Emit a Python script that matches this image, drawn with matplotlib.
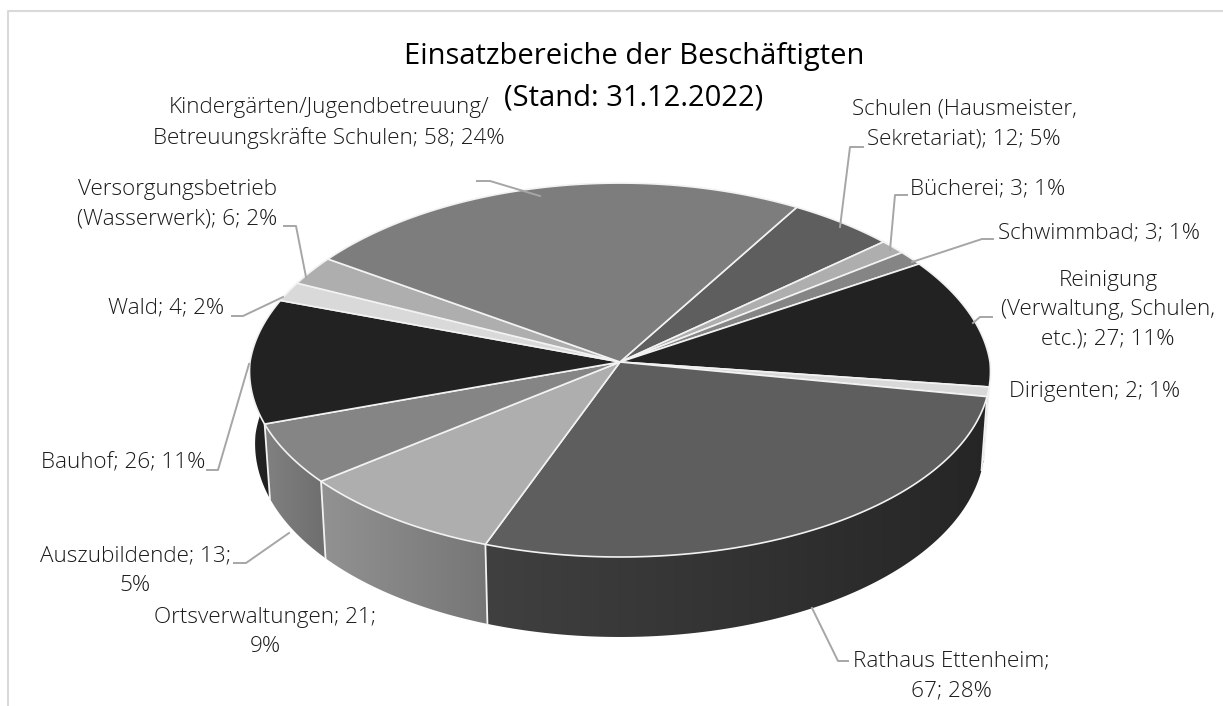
import numpy as np
import matplotlib
matplotlib.use('Agg')
import matplotlib.pyplot as plt
from matplotlib.patches import Polygon

plt.rcParams['font.family'] = ['Open Sans', 'DejaVu Sans']

values = [12, 3, 3, 27, 2, 67, 21, 13, 26, 4, 6, 58]
label_formats = [
    'Schulen (Hausmeister,\nSekretariat); {v}; {p}%',
    'Bücherei; {v}; {p}%',
    'Schwimmbad; {v}; {p}%',
    'Reinigung\n(Verwaltung, Schulen,\netc.); {v}; {p}%',
    'Dirigenten; {v}; {p}%',
    'Rathaus Ettenheim;\n{v}; {p}%',
    'Ortsverwaltungen; {v};\n{p}%',
    'Auszubildende; {v};\n{p}%',
    'Bauhof; {v}; {p}%',
    'Wald; {v}; {p}%',
    'Versorgungsbetrieb\n(Wasserwerk); {v}; {p}%',
    'Kindergärten/Jugendbetreuung/\nBetreuungskräfte Schulen; {v}; {p}%',
]
colors = ['#5e5e5e', '#aeaeae', '#858585', '#222222', '#d9d9d9', '#5e5e5e',
          '#aeaeae', '#858585', '#222222', '#d9d9d9', '#aeaeae', '#7d7d7d']
title = 'Einsatzbereiche der Beschäftigten\n(Stand: 31.12.2022)'

# label centre in pixels, then the leader line
label_pos = [(964, 124), (988, 189), (1099, 233), (1108, 310), (1095, 391), (951, 676),
             (265, 632), (135, 571), (123, 463), (166, 308), (177, 204), (329, 123)]
leaders = [
    [(863, 147), (850, 147), (840, 227)],
    [(907, 195), (895, 195), (890, 250)],
    [(993, 239), (982, 239), (912, 262)],
    [(992, 317), (980, 317), (973, 323)],
    None,
    [(848, 661), (838, 661), (812, 608)],
    None,
    [(234, 563), (246, 563), (289, 533)],
    [(207, 470), (218, 470), (249, 364)],
    [(232, 316), (243, 316), (283, 297)],
    [(284, 226), (296, 226), (306, 277)],
    [(477, 181), (490, 181), (540, 196)],
]

cx, cy = 620, 362
rx, ry = 370, 186.6
persp_y = 0.043
start = 30.7


def project(theta):
    t = np.radians(theta)
    v = np.cos(t)
    k = np.where(v > 0, 0.08, 0.05)
    return cx + rx * np.sin(t) / (1 + k * v), cy - ry * v / (1 + persp_y * v)


def side_bottom(theta):
    x, y = project(theta)
    v = np.cos(np.radians(theta))
    return cx + (x - cx) * 0.985, y + 72 - 8 * v


def shade(color, x):
    f = np.interp(x, [250, 320, 487, 985], [1.0, 0.84, 0.68, 0.40])
    return np.outer(f, matplotlib.colors.to_rgb(color))


fig = plt.figure(figsize=(12.23, 7.06), dpi=100)
ax = fig.add_axes([0, 0, 1, 1])

# chart frame, cut off at the right and the bottom
ax.plot([8, 8, 1223], [706, 11, 11], color='#d9d9d9', lw=1.5, zorder=1)

total = sum(values)
edges = start + np.concatenate([[0], np.cumsum(values)]) / total * 360

# side wall, one clipped gradient per slice
for i, c in enumerate(colors):
    th = np.linspace(edges[i], edges[i + 1], max(int(values[i] * 3), 8))
    x0, y0 = project(th)
    x1, y1 = side_bottom(th)
    px = np.r_[x0, x1[::-1]]
    py = np.r_[y0, y1[::-1]]
    xs = np.arange(px.min(), px.max() + 1)
    grad = shade(c, xs)[np.newaxis, :, :]
    im = ax.imshow(grad, extent=[px.min(), px.max(), py.max(), py.min()], aspect='auto',
                   interpolation='bilinear', zorder=2)
    im.set_clip_path(Polygon(np.c_[px, py], closed=True, transform=ax.transData))

for e in edges[:-1]:
    if np.cos(np.radians(e)) < 0:
        x0, y0 = project(e)
        x1, y1 = side_bottom(e)
        ax.plot([x0, x1], [y0, y1], color='#f2f2f2', lw=1.3, zorder=3)

# top face
for i, c in enumerate(colors):
    th = np.linspace(edges[i], edges[i + 1], max(int(values[i] * 3), 8))
    x, y = project(th)
    ax.fill(np.r_[cx, x], np.r_[cy, y], facecolor=c, edgecolor='#f2f2f2', lw=1.2,
            joinstyle='round', zorder=4)

for line in leaders:
    if line is not None:
        xs, ys = zip(*line)
        ax.plot(xs, ys, color='#a6a6a6', lw=1.4, zorder=5)

for i, fmt in enumerate(label_formats):
    pct = round(values[i] / total * 100)
    ax.text(label_pos[i][0], label_pos[i][1], fmt.format(v=values[i], p=pct), ha='center', va='center',
            fontsize=16.2, fontweight='light', color='#1a1a1a', linespacing=1.53, zorder=6)

ax.text(634, 77, title, ha='center', va='center', fontsize=21, color='black', linespacing=1.57, zorder=7)

ax.set_xlim(0, 1223)
ax.set_ylim(706, 0)
ax.axis('off')

fig.savefig('out.png', dpi=100)
